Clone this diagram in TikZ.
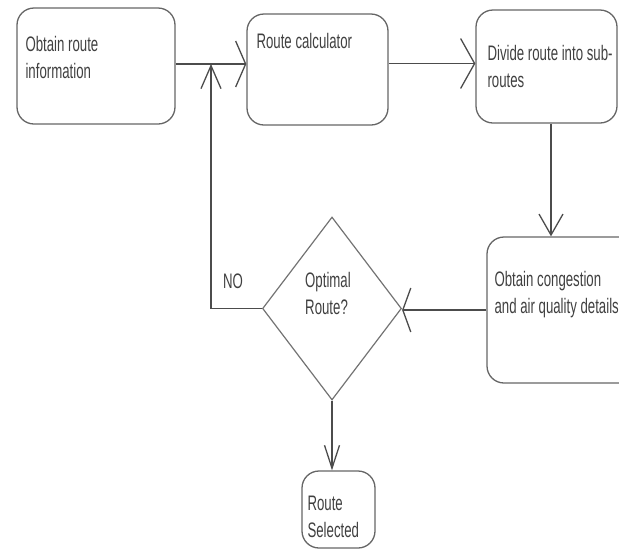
\documentclass[tikz,border=0pt]{standalone}
\usepackage{fontspec}
\setmainfont[FakeStretch=0.63]{Liberation Sans}
\usepackage{tikz}
\usetikzlibrary{
  arrows.meta,
  positioning,
  shapes.geometric
}

\begin{document}
\begin{tikzpicture}[%
          x=1pt,y=-1pt,
          box/.style 2 args={
              draw=black!60,
              line width=1.3pt,
              rounded corners=17pt,
              minimum width=#1,
              minimum height=#2,
              inner sep=0pt
            },decision/.style 2 args={
              draw=black!55,
              line width=1.2pt,
              diamond,
              minimum width=#1,
              minimum height=#2,
              inner sep=0pt
            },txt/.style={
              text=black!75,
              inner sep=0pt,
              align=left,
              font=\fontsize{21}{27}\selectfont
            },arrow/.style 2 args={
              draw=black!70,
              line width=1.3pt,
              -{Straight Barb[length=#1,width=#2]}
            }
        ]

        \clip (0,0) rectangle (619,550);

        % ブロック
        \node[box={158}{116}] (info) at (96,66) {};
        \node[box={141}{111}] (calc) at (317.5,69.5) {};
        \node[box={141}{113}] (divide) at (546.5,66.5) {};
        \node[box={158}{146}] (congest) at (566,310) {};
        \node[decision={139}{183}] (decide) at (332,308.5) {};
        \node[box={73}{77}] (selected) at (338.5,509.5) {};

        % ブロックの文字
        \node[txt,below right=29pt and 9pt of info.north west] (infotxt) {Obtain route\\information};
        \node[txt,below right=20pt and 10pt of calc.north west] (calctxt) {Route calculator};
        \node[txt,below right=36pt and 12pt of divide.north west] (dividetxt) {Divide route into sub-\\routes};
        \node[txt,below right=35pt and 8pt of congest.north west] (congesttxt) {Obtain congestion\\and air quality details};
        \node[txt,anchor=north west] (decidetxt) at ([shift={(-27,-36.5)}]decide.center) {Optimal\\Route?};
        \node[txt,below right=25pt and 6pt of selected.north west] (selectedtxt) {Route\\Selected};
        \node[txt] (no) at (233,281) {NO};

        % 矢印
        \coordinate (nojoin) at (211,64);
        \draw[arrow={10pt}{46pt}] ([yshift=2pt]info.east) -- ([yshift=2pt]info.east -| calc.west);
        \draw[arrow={14pt}{50pt}] ([yshift=6pt]calc.east) -- ([yshift=6pt]calc.east -| divide.west);
        \draw[arrow={21pt}{24pt}] ([xshift=4.5pt]divide.south) -- ([xshift=4.5pt]divide.south |- congest.north);
        \draw[arrow={8pt}{44pt}] (congest.west) -- (congest.west -| decide.east);
        \draw[arrow={23pt}{20pt}] (decide.west) -| (nojoin);
        \draw[arrow={23pt}{15pt}] (decide.south) -- (decide.south |- selected.north);

      \end{tikzpicture}
\end{document}
